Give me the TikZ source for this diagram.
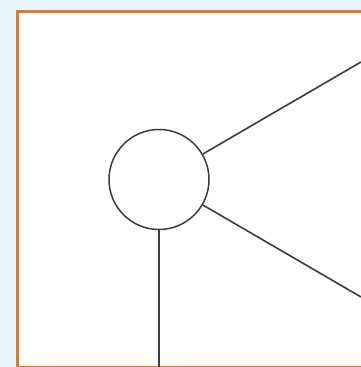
\documentclass[tikz,border=0pt]{standalone}
\usepackage{tikz}
\definecolor{bgblue}{RGB}{233,245,252}
\definecolor{frameorange}{RGB}{222,122,40}
\definecolor{linegray}{RGB}{60,60,60}
\tikzset{
  hubnode/.style={circle, draw=linegray, fill=white, minimum size=100pt, inner sep=0pt, line width=1.5pt},
  spoke/.style={draw=linegray, line width=1.6pt}
}
\begin{document}
\begin{tikzpicture}[x=1pt, y=-1pt]
  % Rahmen und Hintergrund
  \useasboundingbox (0,0) rectangle (361,367);
  \clip (0,0) rectangle (361,367);
  \fill[bgblue] (0,0) rectangle (361,367);
  \draw[frameorange, line width=3pt, fill=white] (17,11.5) rectangle (380,367.5);

  % Knoten
  \node[hubnode] (hub) at (159,179.5) {};
  \coordinate (upper) at (361,62);
  \coordinate (lower) at (361,297);
  \coordinate (down) at (159,370);

  % Verbindungen
  \draw[spoke] (hub) -- (upper);
  \draw[spoke] (hub) -- (lower);
  \draw[spoke] (hub) -- (down);
\end{tikzpicture}
\end{document}
